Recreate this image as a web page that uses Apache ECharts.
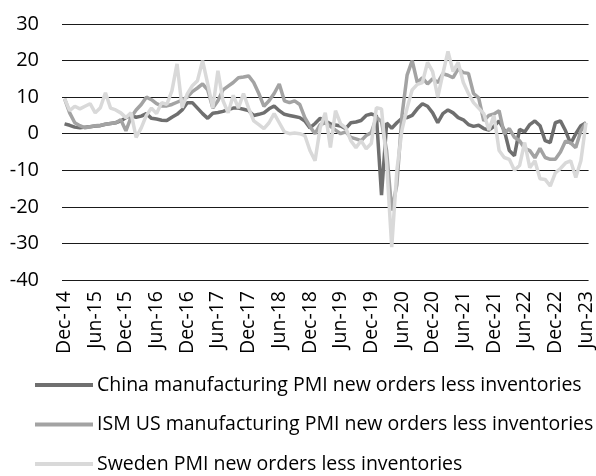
<!DOCTYPE html>
<html>
<head>
<meta charset="utf-8">
<script src="https://cdn.jsdelivr.net/npm/echarts@6/dist/echarts.min.js"></script>
<style>html,body{margin:0;padding:0;background:#fff;}#chart{width:596px;height:476px;}</style>
</head>
<body>
<div id="chart"></div>
<script>
// Monthly categories Dec-14 .. Jun-23
var monthNames = ['Jan','Feb','Mar','Apr','May','Jun','Jul','Aug','Sep','Oct','Nov','Dec'];
var categories = [];
(function(){
  var y = 2014, m = 11;
  while (!(y === 2023 && m === 6)) {
    categories.push(monthNames[m] + '-' + String(y).slice(2));
    m++; if (m === 12) { m = 0; y++; }
  }
})();

var seriesNames = [
  'China manufacturing PMI new orders less inventories',
  'ISM US manufacturing PMI new orders less inventories',
  'Sweden PMI new orders less inventories'
];

var china = [
  2.7,2.3,1.8,1.6,1.8,1.9,2.1,2.2,2.6,2.8,3,3.5,
  4.4,5,4.5,4.8,5.5,4.2,4,3.7,3.6,4.5,5.3,6.5,
  8.5,8.5,7,5.5,4.2,5.6,5.8,6.1,6.6,7,7,6.7,
  6.3,5,5.3,5.7,6.8,7.6,6.3,5.3,5,4.7,4.4,3.5,
  1.6,2.8,4.2,3.5,2.7,2.4,2.1,1.4,3,3.2,3.6,5,
  5.4,4.9,-16.8,2.9,1.5,3,4.2,4.4,5,6.8,8.2,7.5,
  5.7,3,5.5,6.5,5.7,4.4,3.8,2.5,2,2.3,1.4,1,
  2,3.5,1,-4.6,-6,1.2,0.5,2.5,3.5,2.2,-1.9,-2.4,
  3,3.5,0.8,-2.7,0,2.2,3
];

var ism = [
  9.6,5.7,3,2.2,1.6,1.9,2.2,2.3,2.6,2.8,3,3.8,
  0.8,4.5,6.5,8,10,9.3,8.2,7.6,7.6,8,8.6,9.2,
  10,11.5,12.5,13.6,12,7,9,12,13,14,15.3,15.5,
  15.8,14,11,7.5,9,11,13.6,9,8.5,9,8,4.4,
  2,0,2.5,3,2,1,0,0.5,-1,-1.4,-1.9,-0.5,
  0.3,4.5,3.3,-4.7,-21,-14,5,16,20,14,15.3,13.6,
  15,14,16.4,16,15.3,17.8,16.7,16.5,11,9.8,3.5,5,
  5.4,6.3,0,1.4,-1,-1.9,-4,-4.6,-6.6,-4,-6.5,-7,
  -7,-5,-2,-2.5,-3.8,0.8,3
];

var sweden = [
  9.6,6.3,7.5,6.8,7.5,8.2,5.7,7.1,11.2,7,6.5,5.7,
  4.4,5.7,-1,1.6,5,7,5.5,8.5,8,11.7,19.1,7.1,
  10.9,13.1,14.5,20,13.6,7.1,17.2,9,5.7,10.5,7,11,
  7,3.5,2.5,1.4,3,5.5,3,0.5,0,0.2,0,-0.5,
  -4.6,-7.4,1.6,5.7,-3.8,6.3,2.7,1.6,-1.9,-3.8,-1.9,-4.1,
  -2.7,7.1,6.8,-8,-31,-10,1,7,12,13.5,14,19.5,
  17,10,16.4,22.5,17,19.5,14,11,8.5,7,5.5,1,
  5,-4.6,-6.5,-7,-10,-8.7,-2.4,-9.3,-7.4,-12.3,-12.5,-14.3,
  -10.7,-9.5,-8,-7.4,-12,-7.4,3
];

var yMin = -40, yMax = 30, yStep = 10;
var colors = ['#6f6f6f', '#a3a3a3', '#d9d9d9'];
var FONT = 'Open Sans';

var chart = echarts.init(document.getElementById('chart'), null, {renderer: 'canvas'});
chart.setOption({
  animation: false,
  backgroundColor: '#ffffff',
  color: colors,
  grid: {left: 62, right: 6, top: 24, bottom: 196, containLabel: false},
  xAxis: {
    type: 'category',
    data: categories,
    boundaryGap: true,
    axisLine: {show: false},
    axisTick: {show: false},
    splitLine: {show: false},
    axisLabel: {
      interval: 5,
      rotate: 90,
      margin: 11,
      color: '#000',
      fontSize: 19.5,
      fontFamily: FONT
    }
  },
  yAxis: {
    type: 'value',
    min: yMin, max: yMax, interval: yStep,
    axisLine: {show: false},
    axisTick: {show: false},
    splitLine: {show: true, lineStyle: {color: '#1a1a1a', width: 1.2}},
    axisLabel: {color: '#000', fontSize: 20, fontFamily: FONT, margin: 23}
  },
  legend: {
    orient: 'vertical',
    left: 35,
    top: 375,
    padding: 0,
    icon: 'rect',
    itemWidth: 58,
    itemHeight: 4,
    itemGap: 19.5,
    textStyle: {color: '#000', fontSize: 19.5, fontFamily: FONT, lineHeight: 20, padding: [0,0,0,-1]},
    data: seriesNames
  },
  series: [
    {name: seriesNames[0], type: 'line', data: china, showSymbol: false, symbol: 'none', lineStyle: {width: 3.5, color: colors[0]}, itemStyle: {color: colors[0]}},
    {name: seriesNames[1], type: 'line', data: ism, showSymbol: false, symbol: 'none', lineStyle: {width: 3.5, color: colors[1]}, itemStyle: {color: colors[1]}},
    {name: seriesNames[2], type: 'line', data: sweden, showSymbol: false, symbol: 'none', lineStyle: {width: 3.5, color: colors[2]}, itemStyle: {color: colors[2]}}
  ]
});
</script>
</body>
</html>
